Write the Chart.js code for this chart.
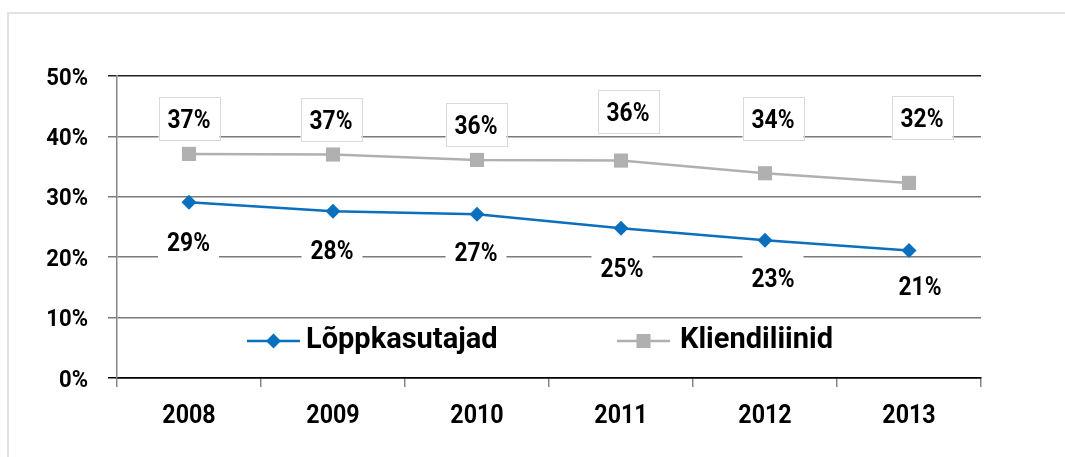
<!DOCTYPE html>
<html>
<head>
<meta charset="utf-8">
<script src="https://cdn.jsdelivr.net/npm/chart.js@4/dist/chart.umd.min.js"></script>
<style>
  html, body { margin: 0; padding: 0; background: #fff; overflow: hidden; }
  #frame { position: absolute; left: 7px; top: 12px; width: 1200px; height: 600px; border: 2px solid #e2e2e2; box-sizing: border-box; }
  #c { position: absolute; left: 0; top: 0; }
</style>
</head>
<body>
<div id="frame"></div>
<canvas id="c" width="1065" height="457"></canvas>
<script>
// ---- data ----
const categories = ['2008', '2009', '2010', '2011', '2012', '2013'];
const seriesNames = ['Lõppkasutajad', 'Kliendiliinid'];
const endUsers = [29.1, 27.6, 27.1, 24.8, 22.8, 21.1];
const clientLines = [37.1, 37.0, 36.1, 36.0, 33.9, 32.3];
const yTickValues = [0, 10, 20, 30, 40, 50];

const BLUE = '#0a6fbd';
const GRAY = '#b0b0b0';
const FONT = 'Roboto, "Liberation Sans", sans-serif';

// draw bold text slightly condensed (horizontal scale), alphabetic baseline
function condText(ctx, txt, x, y, size, sx, align) {
  ctx.save();
  ctx.translate(x, y);
  ctx.scale(sx, 1);
  ctx.font = 'bold ' + size + 'px ' + FONT;
  ctx.fillStyle = '#000';
  ctx.textAlign = align;
  ctx.textBaseline = 'alphabetic';
  ctx.fillText(txt, 0, 0);
  ctx.restore();
}

const labelPlugin = {
  id: 'pctLabels',
  afterDatasetsDraw(chart, args, opts) {
    const ctx = chart.ctx;
    ctx.save();
    chart.data.datasets.forEach((ds, di) => {
      const cfg = opts.sets[di];
      const meta = chart.getDatasetMeta(di);
      meta.data.forEach((pt, i) => {
        const cx = pt.x + cfg.dx[i];
        const cy = pt.y + cfg.dy[i];
        const w = 61, h = 43;
        ctx.fillStyle = '#fff';
        ctx.fillRect(cx - w / 2, cy - h / 2, w, h);
        if (cfg.border) {
          ctx.strokeStyle = cfg.border;
          ctx.lineWidth = 1;
          ctx.strokeRect(Math.round(cx - w / 2) + 0.5, Math.round(cy - h / 2) + 0.5, w, h);
        }
        condText(ctx, Math.round(ds.data[i]) + '%', cx, cy + 9.5, 25, 0.91, 'center');
      });
    });
    ctx.restore();
  },
  afterDraw(chart, args, opts) {
    const ctx = chart.ctx;
    // axis tick labels
    const ys = chart.scales.y, xs = chart.scales.x;
    yTickValues.forEach(v => {
      condText(ctx, v + '%', 88, ys.getPixelForValue(v) + 8.5, 24, 0.92, 'right');
    });
    categories.forEach((c, i) => {
      condText(ctx, c, xs.getPixelForValue(i), 423, 25, 0.93, 'center');
    });
    // legend
    ctx.save();
    const L = opts.legend;
    chart.data.datasets.forEach((ds, di) => {
      const it = L.items[di];
      const y = L.y;
      ctx.strokeStyle = ds.borderColor;
      ctx.lineWidth = 2.5;
      ctx.beginPath();
      ctx.moveTo(it.x, y);
      ctx.lineTo(it.x + 53, y);
      ctx.stroke();
      const mx = it.x + 26.5;
      ctx.fillStyle = ds.pointBackgroundColor;
      if (ds.pointStyle === 'rectRot') {
        ctx.beginPath();
        ctx.moveTo(mx, y - 7.5); ctx.lineTo(mx + 7.5, y); ctx.lineTo(mx, y + 7.5); ctx.lineTo(mx - 7.5, y);
        ctx.closePath(); ctx.fill();
      } else {
        ctx.fillRect(mx - 7, y - 7, 14, 14);
      }
      condText(ctx, ds.label, it.x + it.tx, L.base, 29, 1, 'left');
    });
    ctx.restore();
  }
};

new Chart(document.getElementById('c'), {
  type: 'line',
  data: {
    labels: categories,
    datasets: [
      {
        label: seriesNames[0],
        data: endUsers,
        borderColor: BLUE,
        backgroundColor: BLUE,
        pointBackgroundColor: BLUE,
        pointBorderColor: BLUE,
        pointBorderWidth: 0,
        borderWidth: 2.5,
        pointStyle: 'rectRot',
        pointRadius: 7.5,
        tension: 0
      },
      {
        label: seriesNames[1],
        data: clientLines,
        borderColor: GRAY,
        backgroundColor: GRAY,
        pointBackgroundColor: GRAY,
        pointBorderColor: GRAY,
        pointBorderWidth: 0,
        borderWidth: 2.5,
        pointStyle: 'rect',
        pointRadius: 10,
        tension: 0
      }
    ]
  },
  options: {
    responsive: false,
    animation: false,
    events: [],
    layout: { padding: { top: 76, right: 84, left: 0, bottom: 0 } },
    plugins: {
      legend: { display: false },
      tooltip: { enabled: false },
      pctLabels: {
        sets: [
          { dx: [-0.5, -1, -1, 1, 8, 11], dy: [39, 38, 37.5, 39.5, 37, 35], border: null },
          { dx: [0, -2, -1, 7, 8, 13], dy: [-35.5, -35.5, -35, -49, -55, -65.5], border: '#d9d9d9' }
        ],
        legend: { y: 341, base: 348, items: [{ x: 247, tx: 59 }, { x: 617, tx: 63 }] }
      }
    },
    scales: {
      x: {
        offset: true,
        grid: { display: true, drawOnChartArea: false, drawTicks: true, tickLength: 9, offset: true, color: '#868686', lineWidth: 1.5 },
        border: { display: true, color: '#000', width: 1.5 },
        ticks: { display: false },
        afterFit: s => { s.height = 457 - 378; }
      },
      y: {
        min: 0, max: 50,
        afterBuildTicks: s => { s.ticks = yTickValues.map(v => ({ value: v })); },
        grid: {
          color: c => (c.tick && (c.tick.value === 0)) ? '#000' : (c.tick && c.tick.value === 50 ? '#222' : '#7a7a7a'),
          lineWidth: 1.5, tickLength: 9, drawTicks: true
        },
        border: { display: true, color: '#868686', width: 1.5 },
        ticks: { display: false },
        afterFit: s => { s.width = 117; }
      }
    }
  },
  plugins: [labelPlugin]
});
</script>
</body>
</html>
